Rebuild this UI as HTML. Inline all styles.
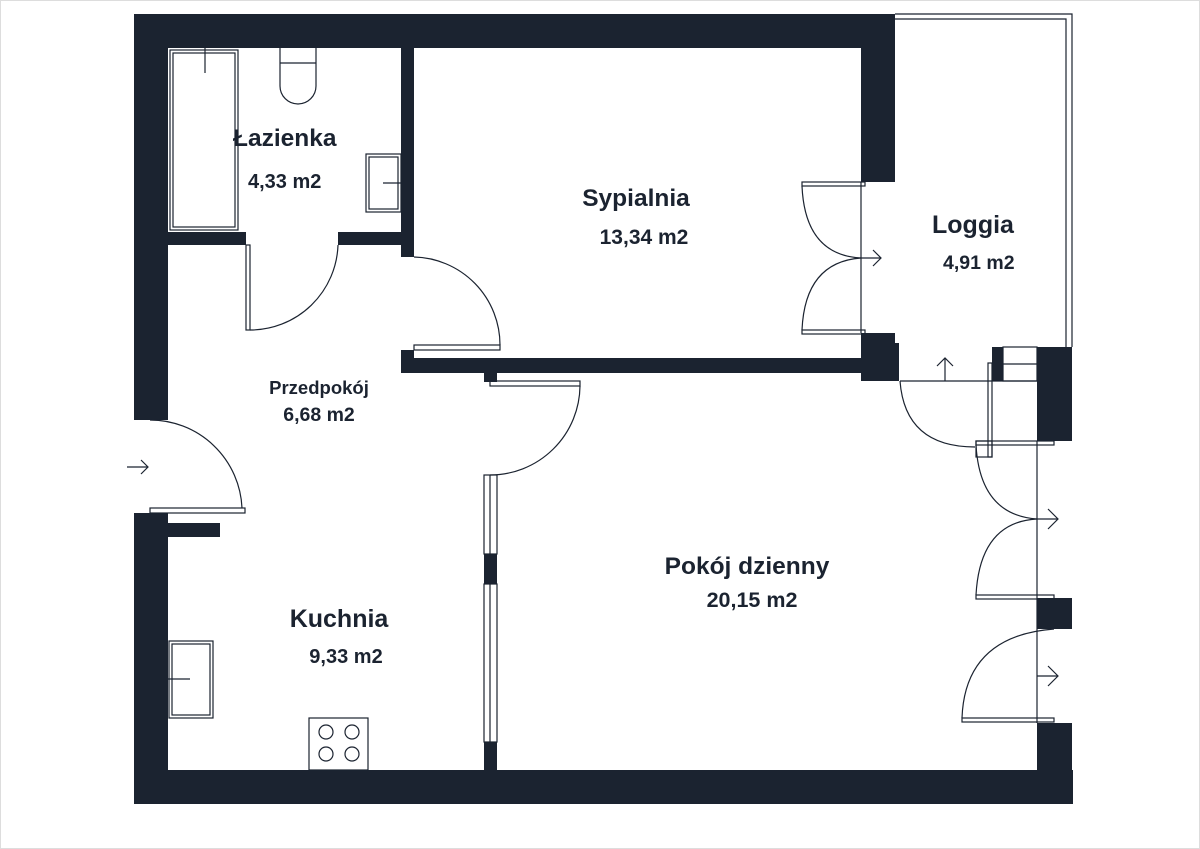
<!DOCTYPE html>
<html><head><meta charset="utf-8"><style>
html,body{margin:0;padding:0;background:#fff;}
svg{display:block}
text{font-family:"Liberation Sans",sans-serif;font-weight:bold;fill:#1b2330}
</style></head><body>
<svg width="1200" height="849" viewBox="0 0 1200 849" xmlns="http://www.w3.org/2000/svg">
<rect x="0.5" y="0.5" width="1199" height="848" fill="#fff" stroke="#ddd"/>
<g fill="#1b2330">
<rect x="134" y="14" width="761" height="34"/>
<rect x="861" y="14" width="34" height="168"/>
<rect x="134" y="14" width="34" height="406"/>
<rect x="134" y="513" width="34" height="291"/>
<rect x="134" y="770" width="939" height="34"/>
<rect x="401" y="48" width="13" height="209"/>
<rect x="168" y="232" width="78" height="13"/>
<rect x="338" y="232" width="76" height="13"/>
<rect x="401" y="358" width="460" height="15"/>
<rect x="401" y="350" width="13" height="23"/>
<rect x="484" y="372" width="13" height="10"/>
<rect x="861" y="333" width="34" height="48"/>
<rect x="895" y="343" width="4" height="38"/>
<rect x="1037" y="347" width="35" height="94"/>
<rect x="992" y="347" width="11" height="34"/>
<rect x="1037" y="598" width="35" height="31"/>
<rect x="1037" y="723" width="35" height="81"/>
<rect x="168" y="523" width="52" height="14"/>
<rect x="484" y="742" width="13" height="28"/>
<rect x="484" y="554" width="13" height="30"/>
</g>
<g fill="none" stroke="#1b2330" stroke-width="1.2">
<polyline points="895,14 1072,14 1072,347"/>
<polyline points="895,19 1066,19 1066,347"/>
<line x1="861" y1="182" x2="861" y2="333"/>
<rect x="1003" y="347" width="34" height="34"/>
<line x1="1003" y1="364" x2="1037" y2="364"/>
<rect x="484" y="475" width="13" height="79"/>
<line x1="490" y1="475" x2="490" y2="554"/>
<rect x="484" y="584" width="13" height="158"/>
<line x1="490" y1="584" x2="490" y2="742"/>
<rect x="170" y="50" width="68" height="180"/>
<rect x="173" y="53" width="62" height="174"/>
<line x1="205" y1="48" x2="205" y2="73"/>
<path d="M280,48 V86 A18,18 0 0 0 316,86 V48"/>
<line x1="280" y1="63" x2="316" y2="63"/>
<rect x="366" y="154" width="35" height="58"/>
<rect x="369" y="157" width="29" height="52"/>
<line x1="383" y1="183" x2="401" y2="183"/>
<rect x="169" y="641" width="44" height="77"/>
<rect x="172" y="644" width="38" height="71"/>
<line x1="168" y1="679" x2="190" y2="679"/>
<rect x="309" y="718" width="59" height="52"/>
<circle cx="326" cy="732" r="7"/><circle cx="352" cy="732" r="7"/>
<circle cx="326" cy="754" r="7"/><circle cx="352" cy="754" r="7"/>
<rect x="246" y="245" width="4" height="85"/>
<path d="M250,330 A88,88 0 0 0 338,245"/>
<rect x="414" y="345" width="86" height="5"/>
<path d="M414,257 A88,88 0 0 1 500,345"/>
<rect x="490" y="381" width="90" height="5"/>
<path d="M580,386 A90,90 0 0 1 490,475"/>
<rect x="150" y="508" width="95" height="5"/>
<path d="M150,420 A92,92 0 0 1 242,508"/>
<polyline points="127,467 148,467"/><polyline points="141,460 148,467 141,474"/>
<rect x="802" y="182" width="63" height="4"/>
<rect x="802" y="330" width="63" height="4"/>
<path d="M802,186 Q805,255 861,258"/>
<path d="M802,330 Q805,262 861,258"/>
<polyline points="861,258 881,258"/><polyline points="873,250 881,258 873,266"/>
<line x1="900" y1="381" x2="1037" y2="381"/>
<path d="M900,381 Q905,447 975,447"/>
<rect x="988" y="363" width="4" height="94"/>
<rect x="976" y="441" width="16" height="16"/>
<polyline points="945,381 945,358"/><polyline points="937,366 945,358 953,366"/>
<line x1="1037" y1="441" x2="1037" y2="723"/>
<rect x="976" y="441" width="78" height="4"/>
<rect x="976" y="595" width="78" height="4"/>
<path d="M976,445 Q980,515 1037,519"/>
<path d="M976,595 Q980,522 1037,519"/>
<polyline points="1037,519 1058,519"/><polyline points="1048,509 1058,519 1048,529"/>
<rect x="962" y="718" width="92" height="4"/>
<path d="M962,718 Q965,636 1054,629"/>
<polyline points="1037,676 1058,676"/><polyline points="1048,666 1058,676 1048,686"/>
</g>
<text x="233" y="146" font-size="24.5">Łazienka</text>
<text x="248" y="188" font-size="20">4,33 m2</text>
<text x="636" y="206" font-size="24.5" text-anchor="middle">Sypialnia</text>
<text x="644" y="244" font-size="21" text-anchor="middle">13,34 m2</text>
<text x="932" y="233" font-size="25">Loggia</text>
<text x="943" y="269" font-size="19.5">4,91 m2</text>
<text x="319" y="394" font-size="18.5" text-anchor="middle">Przedpokój</text>
<text x="319" y="421" font-size="19.5" text-anchor="middle">6,68 m2</text>
<text x="339" y="627" font-size="25" text-anchor="middle">Kuchnia</text>
<text x="346" y="663" font-size="20" text-anchor="middle">9,33 m2</text>
<text x="747" y="574" font-size="24.5" text-anchor="middle">Pokój dzienny</text>
<text x="752" y="607" font-size="21.5" text-anchor="middle">20,15 m2</text>
</svg>
</body></html>
